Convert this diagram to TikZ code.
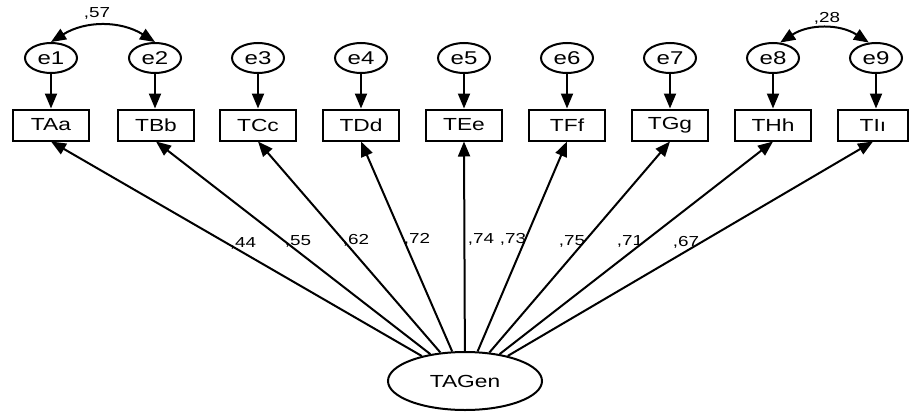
\documentclass[tikz,border=0pt]{standalone}
\usepackage{fontspec}
\setmainfont{Liberation Sans}[FakeStretch=1.3]
\usetikzlibrary{arrows.meta,shapes.geometric}
\begin{document}
\begin{tikzpicture}[x=1pt,y=-1pt,
  err/.style={draw,ellipse,line width=2pt,minimum width=52pt,minimum height=30pt,inner sep=0pt,font=\fontsize{18.5}{18.5}\selectfont},
  obs/.style={draw,rectangle,line width=2pt,minimum width=76pt,minimum height=31pt,inner sep=0pt,font=\fontsize{17.5}{17.5}\selectfont},
  lat/.style={draw,ellipse,line width=2pt,minimum width=154pt,minimum height=58pt,inner sep=0pt,font=\fontsize{17.5}{17.5}\selectfont},
  arr/.style={line width=2pt,-{Triangle[length=15pt,width=12pt]}},
  cov/.style={line width=2pt,{Triangle[length=15pt,width=12pt]}-{Triangle[length=15pt,width=12pt]}},
  lbl/.style={font=\fontsize{14.5}{14.5}\selectfont,inner sep=0pt}]
\useasboundingbox (0,0) rectangle (909,412);

% error terms
\foreach \e/\x in {e1/51,e2/155,e3/258,e4/361,e5/464,e6/567,e7/670,e8/773,e9/876}{
  \node[err] (\e) at (\x,58) {\e};
}
% indicators
\node[obs] (TAa) at (51,125) {TAa};
\node[obs] (TBb) at (156,125) {TBb};
\node[obs] (TCc) at (258,125) {TCc};
\node[obs] (TDd) at (361,125) {TDd};
\node[obs] (TEe) at (464,125) {TEe};
\node[obs] (TFf) at (567,125) {TFf};
\node[obs] (TGg) at (670,125) {TGg};
\node[obs] (THh) at (773,125) {THh};
\node[obs,minimum width=70pt] (TIi) at (873,125) {TI\i};

\foreach \e/\t in {e1/TAa,e2/TBb,e3/TCc,e4/TDd,e5/TEe,e6/TFf,e7/TGg,e8/THh,e9/TIi}{
  \draw[arr] (\e) -- (\e |- \t.north);
}

% latent factor and loadings
\node[lat] (gen) at (465,381) {TAGen};
\foreach \t in {TAa,TBb,TCc,TDd,TEe,TFf,TGg,THh,TIi}{
  \draw[arr] (gen) -- (\t.south);
}

% covariances
\draw[cov] (e1.north) to[bend left=32] (e2.north);
\draw[cov] (e8.65) to[bend left=33] (e9.115);
\node[lbl] (c12) at (97,13) {,57};
\node[lbl] (c89) at (827,18) {,28};

% loading values
\node[lbl] (l1) at (243,243) {,44};
\node[lbl] (l2) at (298,241) {,55};
\node[lbl] (l3) at (356,240) {,62};
\node[lbl] (l4) at (417,239) {,72};
\node[lbl] (l5) at (481,239) {,74};
\node[lbl] (l6) at (513,239) {,73};
\node[lbl] (l7) at (572,241) {,75};
\node[lbl] (l8) at (630,241) {,71};
\node[lbl] (l9) at (686,242) {,67};
\end{tikzpicture}
\end{document}
